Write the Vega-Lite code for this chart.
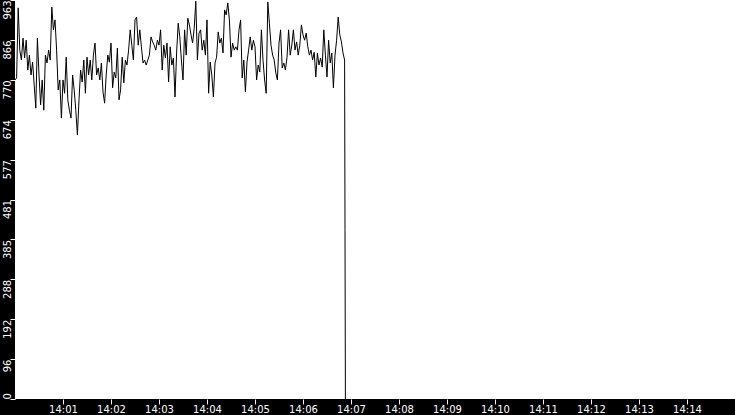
{
  "$schema": "https://vega.github.io/schema/vega-lite/v6.json",
  "width": 720,
  "height": 399,
  "autosize": {"type": "none"},
  "padding": {"left": 15, "top": 0, "right": 0, "bottom": 16},
  "background": "black",
  "config": {
    "view": {"fill": "white", "stroke": null},
    "axis": {
      "labelColor": "white",
      "tickColor": "white",
      "domain": false,
      "grid": false,
      "labelFont": "DejaVu Sans",
      "labelFontSize": 10,
      "title": null,
      "labelOverlap": false,
      "labelBound": false,
      "labelFlush": false
    }
  },
  "data": {
    "values": [
      {"t": "2024-01-01T14:00:00", "v": 770}, {"t": "2024-01-01T14:00:02", "v": 775}, {"t": "2024-01-01T14:00:04", "v": 944}, {"t": "2024-01-01T14:00:06", "v": 842}, {"t": "2024-01-01T14:00:08", "v": 818},
      {"t": "2024-01-01T14:00:10", "v": 871}, {"t": "2024-01-01T14:00:12", "v": 823}, {"t": "2024-01-01T14:00:14", "v": 866}, {"t": "2024-01-01T14:00:16", "v": 794}, {"t": "2024-01-01T14:00:18", "v": 830},
      {"t": "2024-01-01T14:00:20", "v": 782}, {"t": "2024-01-01T14:00:22", "v": 813}, {"t": "2024-01-01T14:00:24", "v": 758}, {"t": "2024-01-01T14:00:26", "v": 702}, {"t": "2024-01-01T14:00:28", "v": 871},
      {"t": "2024-01-01T14:00:30", "v": 782}, {"t": "2024-01-01T14:00:32", "v": 710}, {"t": "2024-01-01T14:00:34", "v": 770}, {"t": "2024-01-01T14:00:36", "v": 697}, {"t": "2024-01-01T14:00:38", "v": 830},
      {"t": "2024-01-01T14:00:40", "v": 811}, {"t": "2024-01-01T14:00:42", "v": 842}, {"t": "2024-01-01T14:00:44", "v": 818}, {"t": "2024-01-01T14:00:46", "v": 946}, {"t": "2024-01-01T14:00:48", "v": 891},
      {"t": "2024-01-01T14:00:50", "v": 915}, {"t": "2024-01-01T14:00:52", "v": 842}, {"t": "2024-01-01T14:00:54", "v": 746}, {"t": "2024-01-01T14:00:56", "v": 770}, {"t": "2024-01-01T14:00:58", "v": 678},
      {"t": "2024-01-01T14:01:00", "v": 770}, {"t": "2024-01-01T14:01:02", "v": 738}, {"t": "2024-01-01T14:01:04", "v": 825}, {"t": "2024-01-01T14:01:06", "v": 722}, {"t": "2024-01-01T14:01:08", "v": 697},
      {"t": "2024-01-01T14:01:10", "v": 678}, {"t": "2024-01-01T14:01:12", "v": 782}, {"t": "2024-01-01T14:01:14", "v": 746}, {"t": "2024-01-01T14:01:16", "v": 697}, {"t": "2024-01-01T14:01:18", "v": 637},
      {"t": "2024-01-01T14:01:20", "v": 722}, {"t": "2024-01-01T14:01:22", "v": 794}, {"t": "2024-01-01T14:01:24", "v": 765}, {"t": "2024-01-01T14:01:26", "v": 818}, {"t": "2024-01-01T14:01:28", "v": 738},
      {"t": "2024-01-01T14:01:30", "v": 825}, {"t": "2024-01-01T14:01:32", "v": 782}, {"t": "2024-01-01T14:01:34", "v": 818}, {"t": "2024-01-01T14:01:36", "v": 770}, {"t": "2024-01-01T14:01:38", "v": 830},
      {"t": "2024-01-01T14:01:40", "v": 859}, {"t": "2024-01-01T14:01:42", "v": 782}, {"t": "2024-01-01T14:01:44", "v": 799}, {"t": "2024-01-01T14:01:46", "v": 770}, {"t": "2024-01-01T14:01:48", "v": 811},
      {"t": "2024-01-01T14:01:50", "v": 741}, {"t": "2024-01-01T14:01:52", "v": 714}, {"t": "2024-01-01T14:01:54", "v": 782}, {"t": "2024-01-01T14:01:56", "v": 830}, {"t": "2024-01-01T14:01:58", "v": 813},
      {"t": "2024-01-01T14:02:00", "v": 859}, {"t": "2024-01-01T14:02:02", "v": 751}, {"t": "2024-01-01T14:02:04", "v": 789}, {"t": "2024-01-01T14:02:06", "v": 775}, {"t": "2024-01-01T14:02:08", "v": 847},
      {"t": "2024-01-01T14:02:10", "v": 722}, {"t": "2024-01-01T14:02:12", "v": 746}, {"t": "2024-01-01T14:02:14", "v": 825}, {"t": "2024-01-01T14:02:16", "v": 763}, {"t": "2024-01-01T14:02:18", "v": 818},
      {"t": "2024-01-01T14:02:20", "v": 806}, {"t": "2024-01-01T14:02:22", "v": 842}, {"t": "2024-01-01T14:02:24", "v": 891}, {"t": "2024-01-01T14:02:26", "v": 854}, {"t": "2024-01-01T14:02:28", "v": 818},
      {"t": "2024-01-01T14:02:30", "v": 915}, {"t": "2024-01-01T14:02:32", "v": 922}, {"t": "2024-01-01T14:02:34", "v": 854}, {"t": "2024-01-01T14:02:36", "v": 891}, {"t": "2024-01-01T14:02:38", "v": 850},
      {"t": "2024-01-01T14:02:40", "v": 811}, {"t": "2024-01-01T14:02:42", "v": 818}, {"t": "2024-01-01T14:02:44", "v": 806}, {"t": "2024-01-01T14:02:46", "v": 818}, {"t": "2024-01-01T14:02:48", "v": 830},
      {"t": "2024-01-01T14:02:50", "v": 874}, {"t": "2024-01-01T14:02:52", "v": 862}, {"t": "2024-01-01T14:02:54", "v": 854}, {"t": "2024-01-01T14:02:56", "v": 842}, {"t": "2024-01-01T14:02:58", "v": 866},
      {"t": "2024-01-01T14:03:00", "v": 854}, {"t": "2024-01-01T14:03:02", "v": 891}, {"t": "2024-01-01T14:03:04", "v": 794}, {"t": "2024-01-01T14:03:06", "v": 854}, {"t": "2024-01-01T14:03:08", "v": 823},
      {"t": "2024-01-01T14:03:10", "v": 859}, {"t": "2024-01-01T14:03:12", "v": 765}, {"t": "2024-01-01T14:03:14", "v": 850}, {"t": "2024-01-01T14:03:16", "v": 806}, {"t": "2024-01-01T14:03:18", "v": 823},
      {"t": "2024-01-01T14:03:20", "v": 729}, {"t": "2024-01-01T14:03:22", "v": 835}, {"t": "2024-01-01T14:03:24", "v": 907}, {"t": "2024-01-01T14:03:26", "v": 874}, {"t": "2024-01-01T14:03:28", "v": 818},
      {"t": "2024-01-01T14:03:30", "v": 770}, {"t": "2024-01-01T14:03:32", "v": 891}, {"t": "2024-01-01T14:03:34", "v": 830}, {"t": "2024-01-01T14:03:36", "v": 919}, {"t": "2024-01-01T14:03:38", "v": 903},
      {"t": "2024-01-01T14:03:40", "v": 879}, {"t": "2024-01-01T14:03:42", "v": 859}, {"t": "2024-01-01T14:03:44", "v": 895}, {"t": "2024-01-01T14:03:46", "v": 960}, {"t": "2024-01-01T14:03:48", "v": 818},
      {"t": "2024-01-01T14:03:50", "v": 883}, {"t": "2024-01-01T14:03:52", "v": 891}, {"t": "2024-01-01T14:03:54", "v": 842}, {"t": "2024-01-01T14:03:56", "v": 866}, {"t": "2024-01-01T14:03:58", "v": 830},
      {"t": "2024-01-01T14:04:00", "v": 915}, {"t": "2024-01-01T14:04:02", "v": 738}, {"t": "2024-01-01T14:04:04", "v": 813}, {"t": "2024-01-01T14:04:06", "v": 782}, {"t": "2024-01-01T14:04:08", "v": 729},
      {"t": "2024-01-01T14:04:10", "v": 811}, {"t": "2024-01-01T14:04:12", "v": 825}, {"t": "2024-01-01T14:04:14", "v": 886}, {"t": "2024-01-01T14:04:16", "v": 859}, {"t": "2024-01-01T14:04:18", "v": 871},
      {"t": "2024-01-01T14:04:20", "v": 835}, {"t": "2024-01-01T14:04:22", "v": 939}, {"t": "2024-01-01T14:04:24", "v": 927}, {"t": "2024-01-01T14:04:26", "v": 956}, {"t": "2024-01-01T14:04:28", "v": 915},
      {"t": "2024-01-01T14:04:30", "v": 825}, {"t": "2024-01-01T14:04:32", "v": 859}, {"t": "2024-01-01T14:04:34", "v": 842}, {"t": "2024-01-01T14:04:36", "v": 850}, {"t": "2024-01-01T14:04:38", "v": 842},
      {"t": "2024-01-01T14:04:40", "v": 891}, {"t": "2024-01-01T14:04:42", "v": 915}, {"t": "2024-01-01T14:04:44", "v": 775}, {"t": "2024-01-01T14:04:46", "v": 818}, {"t": "2024-01-01T14:04:48", "v": 741},
      {"t": "2024-01-01T14:04:50", "v": 813}, {"t": "2024-01-01T14:04:52", "v": 842}, {"t": "2024-01-01T14:04:54", "v": 874}, {"t": "2024-01-01T14:04:56", "v": 842}, {"t": "2024-01-01T14:04:58", "v": 866},
      {"t": "2024-01-01T14:05:00", "v": 850}, {"t": "2024-01-01T14:05:02", "v": 770}, {"t": "2024-01-01T14:05:04", "v": 806}, {"t": "2024-01-01T14:05:06", "v": 789}, {"t": "2024-01-01T14:05:08", "v": 891},
      {"t": "2024-01-01T14:05:10", "v": 818}, {"t": "2024-01-01T14:05:12", "v": 770}, {"t": "2024-01-01T14:05:14", "v": 738}, {"t": "2024-01-01T14:05:16", "v": 958}, {"t": "2024-01-01T14:05:18", "v": 907},
      {"t": "2024-01-01T14:05:20", "v": 854}, {"t": "2024-01-01T14:05:22", "v": 830}, {"t": "2024-01-01T14:05:24", "v": 818}, {"t": "2024-01-01T14:05:26", "v": 787}, {"t": "2024-01-01T14:05:28", "v": 770},
      {"t": "2024-01-01T14:05:30", "v": 859}, {"t": "2024-01-01T14:05:32", "v": 891}, {"t": "2024-01-01T14:05:34", "v": 799}, {"t": "2024-01-01T14:05:36", "v": 811}, {"t": "2024-01-01T14:05:38", "v": 794},
      {"t": "2024-01-01T14:05:40", "v": 825}, {"t": "2024-01-01T14:05:42", "v": 891}, {"t": "2024-01-01T14:05:44", "v": 830}, {"t": "2024-01-01T14:05:46", "v": 854}, {"t": "2024-01-01T14:05:48", "v": 891},
      {"t": "2024-01-01T14:05:50", "v": 842}, {"t": "2024-01-01T14:05:52", "v": 862}, {"t": "2024-01-01T14:05:54", "v": 830}, {"t": "2024-01-01T14:05:56", "v": 854}, {"t": "2024-01-01T14:05:58", "v": 903},
      {"t": "2024-01-01T14:06:00", "v": 879}, {"t": "2024-01-01T14:06:02", "v": 866}, {"t": "2024-01-01T14:06:04", "v": 883}, {"t": "2024-01-01T14:06:06", "v": 850}, {"t": "2024-01-01T14:06:08", "v": 830},
      {"t": "2024-01-01T14:06:10", "v": 842}, {"t": "2024-01-01T14:06:12", "v": 818}, {"t": "2024-01-01T14:06:14", "v": 837}, {"t": "2024-01-01T14:06:16", "v": 777}, {"t": "2024-01-01T14:06:18", "v": 835},
      {"t": "2024-01-01T14:06:20", "v": 806}, {"t": "2024-01-01T14:06:22", "v": 823}, {"t": "2024-01-01T14:06:24", "v": 801}, {"t": "2024-01-01T14:06:26", "v": 891}, {"t": "2024-01-01T14:06:28", "v": 830},
      {"t": "2024-01-01T14:06:30", "v": 777}, {"t": "2024-01-01T14:06:32", "v": 866}, {"t": "2024-01-01T14:06:34", "v": 811}, {"t": "2024-01-01T14:06:36", "v": 835}, {"t": "2024-01-01T14:06:38", "v": 751},
      {"t": "2024-01-01T14:06:40", "v": 830}, {"t": "2024-01-01T14:06:42", "v": 866}, {"t": "2024-01-01T14:06:44", "v": 922}, {"t": "2024-01-01T14:06:46", "v": 879}, {"t": "2024-01-01T14:06:48", "v": 862},
      {"t": "2024-01-01T14:06:50", "v": 835}, {"t": "2024-01-01T14:06:52", "v": 818}, {"t": "2024-01-01T14:06:52.500", "v": 410}, {"t": "2024-01-01T14:06:53", "v": 0}
    ]
  },
  "mark": {"type": "line", "color": "black", "strokeWidth": 1, "clip": true},
  "encoding": {
    "x": {
      "field": "t",
      "type": "temporal",
      "scale": {
        "domain": [
          {"year": 2024, "month": 1, "date": 1, "hours": 14, "minutes": 0},
          {"year": 2024, "month": 1, "date": 1, "hours": 14, "minutes": 15}
        ]
      },
      "axis": {
        "orient": "bottom",
        "format": "%H:%M",
        "tickSize": 5,
        "labelPadding": 0,
        "values": [
          {"year": 2024, "month": 1, "date": 1, "hours": 14, "minutes": 1},
          {"year": 2024, "month": 1, "date": 1, "hours": 14, "minutes": 2},
          {"year": 2024, "month": 1, "date": 1, "hours": 14, "minutes": 3},
          {"year": 2024, "month": 1, "date": 1, "hours": 14, "minutes": 4},
          {"year": 2024, "month": 1, "date": 1, "hours": 14, "minutes": 5},
          {"year": 2024, "month": 1, "date": 1, "hours": 14, "minutes": 6},
          {"year": 2024, "month": 1, "date": 1, "hours": 14, "minutes": 7},
          {"year": 2024, "month": 1, "date": 1, "hours": 14, "minutes": 8},
          {"year": 2024, "month": 1, "date": 1, "hours": 14, "minutes": 9},
          {"year": 2024, "month": 1, "date": 1, "hours": 14, "minutes": 10},
          {"year": 2024, "month": 1, "date": 1, "hours": 14, "minutes": 11},
          {"year": 2024, "month": 1, "date": 1, "hours": 14, "minutes": 12},
          {"year": 2024, "month": 1, "date": 1, "hours": 14, "minutes": 13},
          {"year": 2024, "month": 1, "date": 1, "hours": 14, "minutes": 14}
        ]
      }
    },
    "y": {
      "field": "v",
      "type": "quantitative",
      "scale": {"domain": [0, 963], "nice": false, "zero": true},
      "axis": {
        "orient": "left",
        "values": [0, 96.3, 192.6, 288.9, 385.2, 481.5, 577.8, 674.1, 770.4, 866.7, 963],
        "labelExpr": "floor(datum.value)",
        "labelAngle": -90,
        "labelAlign": {"condition": {"test": "datum.value === 0", "value": "left"}, "value": "right"},
        "labelBaseline": "alphabetic",
        "tickSize": 5,
        "labelPadding": 0
      }
    }
  }
}
